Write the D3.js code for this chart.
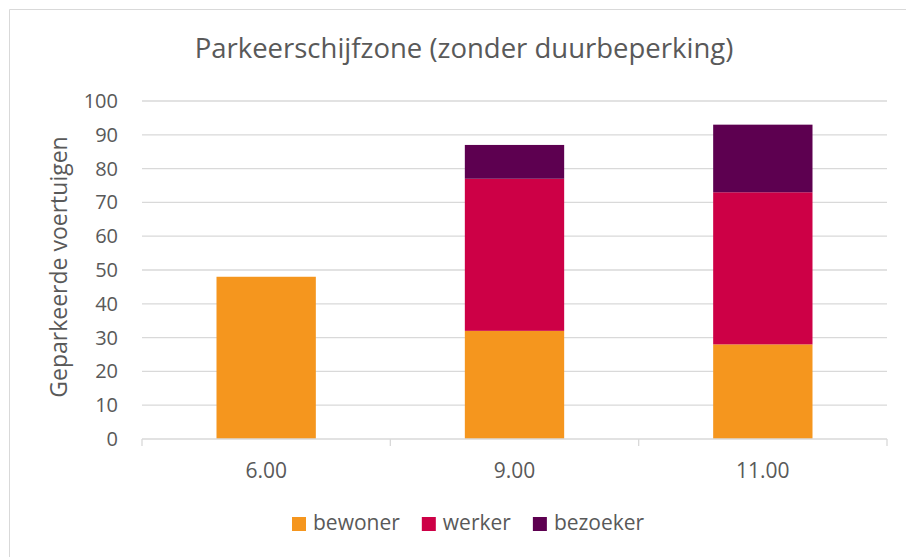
<!DOCTYPE html>
<html>
<head>
<meta charset="utf-8">
<script src="https://cdn.jsdelivr.net/npm/d3@7"></script>
<style>
  html, body { margin: 0; padding: 0; background: #fff; overflow: hidden; }
  svg { display: block; font-family: "Open Sans", "Noto Sans", sans-serif; }
</style>
</head>
<body>
<div id="chart"></div>
<script>
const categories = ["6.00", "9.00", "11.00"];
const seriesNames = ["bewoner", "werker", "bezoeker"];
const bewoner = [48, 32, 28];
const werker = [0, 45, 45];
const bezoeker = [0, 10, 20];
const yTicks = [0, 10, 20, 30, 40, 50, 60, 70, 80, 90, 100];
const seriesColors = ["#F5961E", "#CD0046", "#5D0050"];

const width = 906, height = 557;
const margin = { top: 101, right: 19, bottom: 118, left: 142 };
const innerWidth = width - margin.left - margin.right;
const innerHeight = height - margin.top - margin.bottom;
const textColor = "#595959";
const gridColor = "#d9d9d9";

const rows = categories.map((c, i) => ({ cat: c, bewoner: bewoner[i], werker: werker[i], bezoeker: bezoeker[i] }));
const stacked = d3.stack().keys(seriesNames)(rows);

const svg = d3.select("#chart").append("svg")
    .attr("width", width)
    .attr("height", height);

// chart frame (only left and top edges fall inside the picture)
svg.append("path")
    .attr("d", `M9.5,${height} V9.5 H${width}`)
    .attr("fill", "none").attr("stroke", gridColor);

const x = d3.scaleBand().domain(categories).range([0, innerWidth]).paddingInner(0.6).paddingOuter(0.3);
const y = d3.scaleLinear().domain([0, 100]).range([innerHeight, 0]);
const color = d3.scaleOrdinal().domain(seriesNames).range(seriesColors);

const g = svg.append("g").attr("transform", `translate(${margin.left},${margin.top})`);

// gridlines
g.selectAll(".grid").data(yTicks.filter(t => t > 0)).enter().append("line")
    .attr("x1", 0).attr("x2", innerWidth)
    .attr("y1", d => y(d)).attr("y2", d => y(d))
    .attr("stroke", gridColor).attr("stroke-width", 1.3);

// y tick labels
g.selectAll(".ylbl").data(yTicks).enter().append("text")
    .attr("x", -24)
    .attr("y", d => y(d) + 7)
    .attr("text-anchor", "end")
    .attr("fill", textColor)
    .style("font-size", "20px")
    .text(d => d);

// bars
g.selectAll(".series").data(stacked).enter().append("g")
    .attr("fill", d => color(d.key))
    .selectAll("rect").data(d => d).enter().append("rect")
    .attr("x", d => x(d.data.cat))
    .attr("y", d => y(d[1]))
    .attr("width", x.bandwidth())
    .attr("height", d => y(d[0]) - y(d[1]));

// x axis with category boundary ticks
const step = x.step();
const xAxis = g.append("g").attr("transform", `translate(0,${innerHeight})`);
xAxis.append("line").attr("x1", 0).attr("x2", innerWidth).attr("stroke", gridColor).attr("stroke-width", 1.3);
xAxis.selectAll(".bound").data(d3.range(categories.length + 1)).enter().append("line")
    .attr("x1", i => i * step).attr("x2", i => i * step)
    .attr("y1", 0).attr("y2", 7)
    .attr("stroke", gridColor).attr("stroke-width", 1.3);
xAxis.selectAll(".lbl").data(categories).enter().append("text")
    .attr("x", d => x(d) + x.bandwidth() / 2)
    .attr("y", 39)
    .attr("text-anchor", "middle")
    .attr("fill", textColor)
    .style("font-size", "21px")
    .text(d => d);

// title
svg.append("text")
    .attr("x", 464).attr("y", 58)
    .attr("text-anchor", "middle")
    .attr("fill", textColor)
    .style("font-size", "27.5px")
    .text("Parkeerschijfzone (zonder duurbeperking)");

// y label
svg.append("text")
    .attr("transform", `translate(67,267) rotate(-90)`)
    .attr("text-anchor", "middle")
    .attr("fill", textColor)
    .style("font-size", "23px")
    .text("Geparkeerde voertuigen");

// legend
const legend = svg.append("g").attr("transform", "translate(292,530)");
let lx = 0;
seriesNames.forEach(name => {
    const item = legend.append("g").attr("transform", `translate(${lx},0)`);
    item.append("rect").attr("x", 0).attr("y", -13).attr("width", 14).attr("height", 14).attr("fill", color(name));
    const t = item.append("text").attr("x", 21).attr("y", 0)
        .attr("fill", textColor).style("font-size", "21px").text(name);
    lx += 21 + t.node().getComputedTextLength() + 22;
});
</script>
</body>
</html>
